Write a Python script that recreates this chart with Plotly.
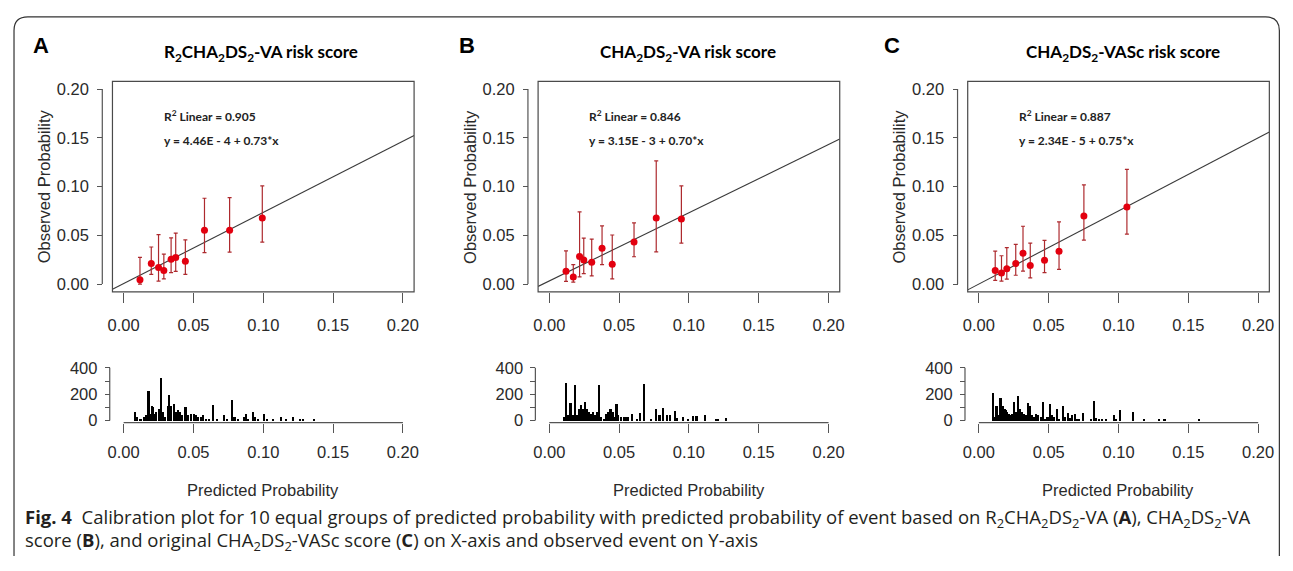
import plotly.graph_objects as go

# The page adds an 8px body margin, so the figure is made 16px smaller and all
# page-pixel positions below are shifted by that margin.
PAGE_W, PAGE_H = 1293, 571
MARGIN = 8
W, H = PAGE_W - 2 * MARGIN, PAGE_H - 2 * MARGIN

# ---------------- data ----------------
titles = ["R<sub>2</sub>CHA<sub>2</sub>DS<sub>2</sub>-VA risk score",
          "CHA<sub>2</sub>DS<sub>2</sub>-VA risk score",
          "CHA<sub>2</sub>DS<sub>2</sub>-VASc risk score"]
letters = ["A", "B", "C"]
r2_text = ["0.905", "0.846", "0.887"]
eq_text = ["y = 4.46E - 4 + 0.73*x", "y = 3.15E - 3 + 0.70*x", "y = 2.34E - 5 + 0.75*x"]
intercepts = [4.46e-4, 3.15e-3, 2.34e-5]
slopes = [0.73, 0.70, 0.75]

predA = [0.0117, 0.0198, 0.0250, 0.0288, 0.0340, 0.0373, 0.0442, 0.0579, 0.0759, 0.0993]
obsA = [0.0043, 0.0210, 0.0170, 0.0140, 0.0253, 0.0273, 0.0233, 0.0553, 0.0553, 0.0677]
loA = [0.0000, 0.0100, 0.0030, 0.0053, 0.0117, 0.0130, 0.0100, 0.0323, 0.0327, 0.0430]
hiA = [0.0273, 0.0380, 0.0507, 0.0307, 0.0473, 0.0523, 0.0453, 0.0880, 0.0887, 0.1007]

predB = [0.0120, 0.0172, 0.0217, 0.0247, 0.0304, 0.0378, 0.0451, 0.0607, 0.0766, 0.0946]
obsB = [0.0130, 0.0073, 0.0283, 0.0247, 0.0223, 0.0367, 0.0203, 0.0430, 0.0677, 0.0667]
loB = [0.0027, 0.0020, 0.0073, 0.0107, 0.0083, 0.0200, 0.0053, 0.0280, 0.0330, 0.0420]
hiB = [0.0340, 0.0200, 0.0740, 0.0470, 0.0460, 0.0597, 0.0503, 0.0627, 0.1263, 0.1007]

predC = [0.0117, 0.0162, 0.0200, 0.0264, 0.0316, 0.0368, 0.0470, 0.0574, 0.0752, 0.1060]
obsC = [0.0140, 0.0113, 0.0157, 0.0210, 0.0317, 0.0190, 0.0243, 0.0337, 0.0697, 0.0790]
loC = [0.0037, 0.0030, 0.0050, 0.0090, 0.0133, 0.0063, 0.0117, 0.0150, 0.0450, 0.0513]
hiC = [0.0337, 0.0290, 0.0373, 0.0407, 0.0593, 0.0420, 0.0447, 0.0637, 0.1017, 0.1177]

histA_x = [0.0082, 0.0098, 0.0124, 0.0153, 0.0167, 0.0181, 0.0193, 0.0205, 0.0214, 0.0224,
           0.0238, 0.0257, 0.0271, 0.0285, 0.0300, 0.0319, 0.0330, 0.0342, 0.0361, 0.0375,
           0.0390, 0.0409, 0.0423, 0.0446, 0.0465, 0.0484, 0.0508, 0.0522, 0.0536, 0.0555,
           0.0574, 0.0593, 0.0612, 0.0645, 0.0669, 0.0721, 0.0745, 0.0778, 0.0797, 0.0825,
           0.0863, 0.0877, 0.0896, 0.0930, 0.0944, 0.0968, 0.1010, 0.1029, 0.1076, 0.1128,
           0.1164, 0.1218, 0.1266, 0.1290, 0.1365]
histA_n = [67, 30, 17, 30, 42, 227, 54, 116, 104, 54,
           67, 91, 326, 67, 30, 116, 198, 116, 128, 67,
           79, 67, 42, 104, 42, 54, 54, 47, 30, 30,
           42, 17, 17, 121, 17, 42, 17, 160, 30, 17,
           30, 54, 17, 67, 30, 17, 54, 17, 17, 30,
           12, 30, 17, 10, 10]

histB_x = [0.0105, 0.0122, 0.0136, 0.0153, 0.0169, 0.0188, 0.0203, 0.0217, 0.0231, 0.0245,
           0.0259, 0.0274, 0.0288, 0.0302, 0.0316, 0.0330, 0.0345, 0.0359, 0.0373, 0.0392,
           0.0406, 0.0425, 0.0439, 0.0454, 0.0468, 0.0482, 0.0496, 0.0515, 0.0534, 0.0553,
           0.0567, 0.0596, 0.0629, 0.0648, 0.0679, 0.0728, 0.0766, 0.0790, 0.0818, 0.0842,
           0.0866, 0.0904, 0.0918, 0.0956, 0.0994, 0.1031, 0.1055, 0.1117, 0.1197, 0.1207,
           0.1268]
histB_n = [30, 289, 42, 136, 42, 272, 47, 91, 121, 91,
           146, 91, 67, 54, 67, 42, 67, 274, 30, 17,
           54, 67, 91, 67, 30, 128, 42, 30, 30, 30,
           30, 54, 17, 62, 281, 17, 91, 47, 96, 42,
           42, 77, 22, 30, 17, 37, 37, 47, 12, 12,
           22]

histC_x = [0.0096, 0.0110, 0.0124, 0.0139, 0.0153, 0.0162, 0.0172, 0.0181, 0.0191, 0.0200,
           0.0210, 0.0219, 0.0233, 0.0248, 0.0262, 0.0281, 0.0295, 0.0304, 0.0319, 0.0333,
           0.0347, 0.0361, 0.0375, 0.0390, 0.0409, 0.0423, 0.0442, 0.0456, 0.0470, 0.0489,
           0.0508, 0.0522, 0.0536, 0.0555, 0.0574, 0.0603, 0.0617, 0.0636, 0.0650, 0.0664,
           0.0683, 0.0702, 0.0716, 0.0745, 0.0802, 0.0821, 0.0835, 0.0859, 0.0882, 0.0911,
           0.0968, 0.0982, 0.1010, 0.1100, 0.1181, 0.1285, 0.1327, 0.1574]
histC_n = [210, 30, 116, 42, 173, 116, 116, 91, 79, 67,
           54, 42, 54, 141, 67, 190, 91, 67, 54, 42,
           136, 116, 42, 30, 54, 42, 30, 141, 17, 30,
           128, 42, 30, 91, 17, 111, 30, 62, 22, 42,
           54, 17, 17, 59, 17, 153, 22, 12, 12, 12,
           47, 17, 79, 67, 17, 12, 12, 7]

prob_ticks = [0.0, 0.05, 0.10, 0.15, 0.20]
prob_ticktext = ["0.00", "0.05", "0.10", "0.15", "0.20"]
count_ticks = [0, 200, 400]
count_ticktext = ["0", "200", "400"]
count_minor_ticks = [100, 300]

panels = [(predA, obsA, loA, hiA, histA_x, histA_n),
          (predB, obsB, loB, hiB, histB_x, histB_n),
          (predC, obsC, loC, hiC, histC_x, histC_n)]

# ---------------- layout geometry (page pixels) ----------------
X0 = [119.5, 548.5, 981.5]      # page pixel of x = 0.00 in each panel
PX_PER_UNIT = 1407.5
title_cx = [258, 688, 1127]
letter_x = [26, 456, 884]


def px(x):
    return (x - MARGIN) / W


def py(y):
    return 1 - (y - MARGIN) / H


AXIS_FONT = dict(family="Liberation Sans, Arial, sans-serif", size=16.5, color="#2a2a2a")
AXC = "#555555"

fig = go.Figure()
layout = dict(width=W, height=H, autosize=False,
              margin=dict(l=0, r=0, t=0, b=0),
              paper_bgcolor="white", plot_bgcolor="white",
              showlegend=False)
shapes = []
annotations = []


def ax_id(n):
    return "" if n == 1 else str(n)


for i, (pred, obs, lo, hi, hx, hn) in enumerate(panels):
    m = 2 * i + 1
    h = 2 * i + 2
    xm, ym, xh, yh = "x" + ax_id(m), "y" + ax_id(m), "x" + ax_id(h), "y" + ax_id(h)
    x0 = X0[i]
    dom_x = [px(x0 - 0.008 * PX_PER_UNIT), px(x0 + 0.208 * PX_PER_UNIT)]

    # main calibration panel
    layout["xaxis" + ax_id(m)] = dict(domain=dom_x, range=[-0.008, 0.208], anchor=ym,
                                      tickvals=prob_ticks, ticktext=prob_ticktext,
                                      ticks="outside", ticklen=10, tickcolor=AXC, tickwidth=1,
                                      showline=False, showgrid=False, zeroline=False,
                                      tickfont=AXIS_FONT, ticklabelstandoff=8)
    layout["yaxis" + ax_id(m)] = dict(domain=[py(292), py(76)], range=[-0.008, 0.208],
                                      anchor="free", position=px(x0 - 21.5),
                                      tickvals=prob_ticks, ticktext=prob_ticktext,
                                      ticks="outside", ticklen=5, tickcolor=AXC, tickwidth=1,
                                      showline=False, showgrid=False, zeroline=False,
                                      tickfont=AXIS_FONT, ticklabelstandoff=5)
    # histogram panel
    layout["xaxis" + ax_id(h)] = dict(domain=dom_x, range=[-0.008, 0.208], anchor=yh,
                                      tickvals=prob_ticks, ticktext=prob_ticktext,
                                      ticks="outside", ticklen=9, tickcolor=AXC, tickwidth=1,
                                      showline=False, showgrid=False, zeroline=False,
                                      tickfont=AXIS_FONT, ticklabelstandoff=6)
    layout["yaxis" + ax_id(h)] = dict(domain=[py(426.2), py(367.8)], range=[-16, 416],
                                      anchor="free", position=px(x0 - 14),
                                      tickvals=count_ticks, ticktext=count_ticktext,
                                      ticks="outside", ticklen=5, tickcolor=AXC, tickwidth=1,
                                      minor=dict(tickvals=count_minor_ticks, ticks="outside",
                                                 ticklen=5, tickcolor=AXC, tickwidth=1,
                                                 showgrid=False),
                                      showline=False, showgrid=False, zeroline=False,
                                      tickfont=AXIS_FONT, ticklabelstandoff=4)

    # regression line
    xl = [-0.008, 0.208]
    yl = [intercepts[i] + slopes[i] * v for v in xl]
    fig.add_trace(go.Scatter(x=xl, y=yl, mode="lines", xaxis=xm, yaxis=ym,
                             line=dict(color="#3a3a3a", width=1.1), hoverinfo="skip"))
    # points with CIs
    fig.add_trace(go.Scatter(
        x=pred, y=obs, mode="markers", xaxis=xm, yaxis=ym,
        marker=dict(color="#e3000f", size=7),
        error_y=dict(type="data", symmetric=False,
                     array=[a - b for a, b in zip(hi, obs)],
                     arrayminus=[b - a for a, b in zip(lo, obs)],
                     color="#ad2a2e", thickness=1.2, width=2)))
    # spike histogram
    fig.add_trace(go.Bar(x=hx, y=hn, xaxis=xh, yaxis=yh, width=0.0015,
                         marker=dict(color="black", line=dict(width=0))))

    # box around main panel
    shapes.append(dict(type="rect", xref=f"{xm} domain", yref=f"{ym} domain",
                       x0=0, x1=1, y0=0, y1=1, line=dict(color="#4a4a4a", width=1.2)))
    # y axis line (main)
    shapes.append(dict(type="line", xref="paper", yref=ym,
                       x0=px(x0 - 21.5), x1=px(x0 - 21.5), y0=0, y1=0.2,
                       line=dict(color=AXC, width=1.2)))
    # histogram axis lines
    shapes.append(dict(type="line", xref=xh, yref=f"{yh} domain",
                       x0=0, x1=0.2, y0=0, y1=0, line=dict(color=AXC, width=1.2)))
    shapes.append(dict(type="line", xref="paper", yref=yh,
                       x0=px(x0 - 14), x1=px(x0 - 14), y0=0, y1=400,
                       line=dict(color=AXC, width=1.2)))

    # texts
    annotations.append(dict(text=letters[i], x=px(letter_x[i]), y=py(39), xref="paper", yref="paper",
                            xanchor="left", yanchor="middle", showarrow=False,
                            font=dict(family="Liberation Sans, Arial, sans-serif", size=22,
                                      color="black", weight="bold")))
    annotations.append(dict(text=titles[i], x=px(title_cx[i]), y=py(47), xref="paper", yref="paper",
                            xanchor="center", yanchor="middle", showarrow=False,
                            font=dict(family="Lato, sans-serif", size=17, color="black",
                                      weight="bold")))
    annotations.append(dict(text="R<sup>2</sup> Linear = " + r2_text[i], x=px(x0 + 38.3), y=py(112),
                            xref="paper", yref="paper", xanchor="left", yanchor="middle",
                            showarrow=False,
                            font=dict(family="Lato, sans-serif", size=12, color="#222",
                                      weight="bold")))
    annotations.append(dict(text=eq_text[i], x=px(x0 + 38.3), y=py(137),
                            xref="paper", yref="paper", xanchor="left", yanchor="middle",
                            showarrow=False,
                            font=dict(family="Lato, sans-serif", size=12, color="#222",
                                      weight="bold")))
    annotations.append(dict(text="Observed Probability", x=px(x0 - 80.5), y=py(184),
                            xref="paper", yref="paper", xanchor="center", yanchor="middle",
                            textangle=-90, showarrow=False, font=AXIS_FONT))
    annotations.append(dict(text="Predicted Probability", x=px(x0 + 140.5), y=py(495),
                            xref="paper", yref="paper", xanchor="center", yanchor="middle",
                            showarrow=False, font=AXIS_FONT))

# caption
CAP_FONT = dict(family="Open Sans, Noto Sans, sans-serif", size=18.5, color="#231f20")
annotations.append(dict(
    text=("<b>Fig. 4</b>  Calibration plot for 10 equal groups of predicted probability with "
          "predicted probability of event based on R<sub>2</sub>CHA<sub>2</sub>DS<sub>2</sub>-VA "
          "(<b>A</b>), CHA<sub>2</sub>DS<sub>2</sub>-VA"),
    x=px(18), y=py(524), xref="paper", yref="paper", xanchor="left", yanchor="middle",
    showarrow=False, font=CAP_FONT))
annotations.append(dict(
    text=("score (<b>B</b>), and original CHA<sub>2</sub>DS<sub>2</sub>-VASc score (<b>C</b>) "
          "on X-axis and observed event on Y-axis"),
    x=px(18), y=py(548), xref="paper", yref="paper", xanchor="left", yanchor="middle",
    showarrow=False, font=CAP_FONT))

# rounded frame (open at the bottom, as in the cropped reference)
fx0, fy0 = 0.0008, 1 - 0.0036
fx1 = 0.9995
fb = 0.0
rx, ry = 14 / W, 14 / H
frame = (f"M {fx0},{fb} L {fx0},{fy0 - ry} Q {fx0},{fy0} {fx0 + rx},{fy0} "
         f"L {fx1 - rx},{fy0} Q {fx1},{fy0} {fx1},{fy0 - ry} L {fx1},{fb}")
shapes.append(dict(type="path", xref="paper", yref="paper", path=frame,
                   line=dict(color="#333", width=1.2)))

layout["shapes"] = shapes
layout["annotations"] = annotations
layout["bargap"] = 0
fig.update_layout(**layout)

fig.write_html("out.html", config={"displayModeBar": False})
